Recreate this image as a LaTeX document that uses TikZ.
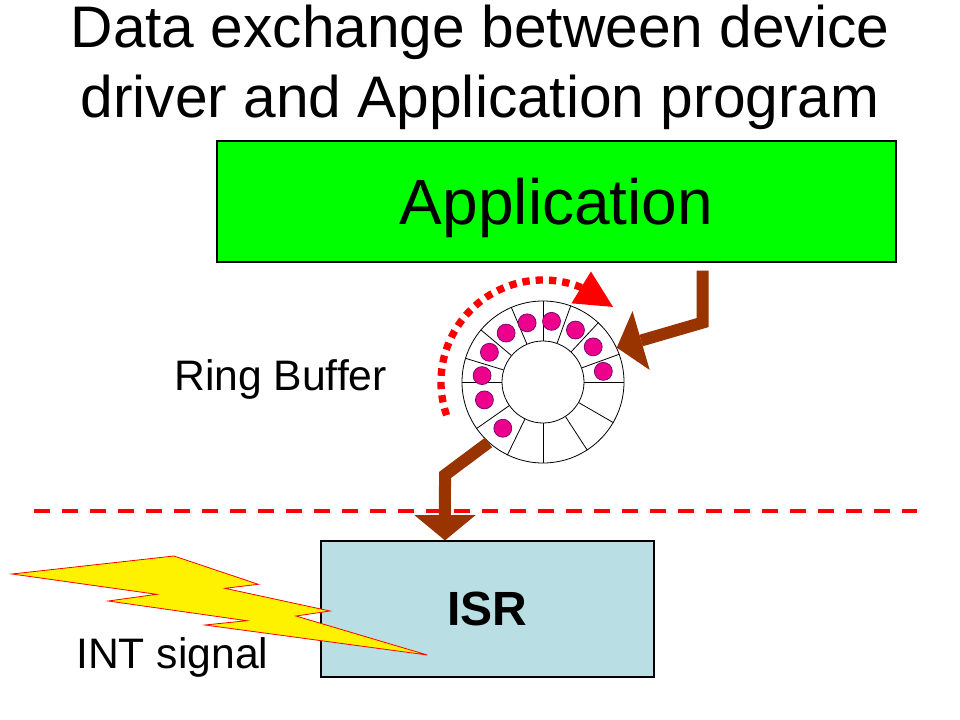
\documentclass[tikz,border=0pt]{standalone}
\usepackage{fontspec}
\setmainfont{Liberation Sans}
\usetikzlibrary{arrows.meta}
\definecolor{appgreen}{RGB}{0,255,0}
\definecolor{isrblue}{RGB}{185,222,227}
\definecolor{feedbrown}{RGB}{153,51,0}
\definecolor{beadpurple}{RGB}{110,0,110}
\begin{document}
\begin{tikzpicture}[x=0.75pt, y=-0.75pt,
        box/.style={rectangle, draw, line width=0.9pt, inner sep=0pt, text depth=0pt},
        wheel/.style={circle, draw, line width=0.6pt, inner sep=0pt},
        bead/.style={circle, draw=beadpurple, line width=0.5pt, fill=magenta, minimum size=13.5pt, inner sep=0pt},
        feed/.style={draw=feedbrown, line width=9pt, -{Triangle[length=19pt, width=46pt, line width=0pt]}},
        label/.style={inner sep=0pt, anchor=base west, font=\fontsize{32}{38}\selectfont}]
        \useasboundingbox (0,0) rectangle (960,720);

        % Title
        \node[align=center, inner sep=0pt, anchor=north, font=\fontsize{44}{52.5}\selectfont] (title) at (480,4.5)
            {Data exchange between device\\driver and Application program};

        % Application
        \node[box, fill=appgreen, minimum width=509.25pt, minimum height=90.75pt,
            font=\fontsize{48}{56}\selectfont] (app) at (556.5,201.5) {Application};

        % Ring buffer
        \node[wheel, minimum size=121.5pt] (ring) at (543,382) {};
        \node[wheel, minimum size=61.5pt] (hole) at (ring.center) {};
        \node[circle, inner sep=0pt, minimum size=91.5pt] (mid) at (ring.center) {};
        \foreach \a in {0,20,47,70,90,113,140,163,180,215,244,270,303,330}
            \draw[line width=0.6pt] (hole.\a) -- (ring.\a);
        \foreach \a in {10,35,58,82,105,127,151,174,197,229}
            \node[bead] at (mid.\a) {};

        % Write pointer
        \coordinate (wptip) at ([shift={(47:77pt)}]ring.center);
        \draw[red, line width=5.5pt, dash pattern=on 5.5pt off 4.5pt,
            -{Triangle[length=28pt, width=28pt, line width=0pt]}]
            ([shift={(199:76.5pt)}]ring.center) arc[start angle=199, end angle=68, radius=76.5pt] -- (wptip);

        % User / kernel border
        \draw[red, line width=3pt, dash pattern=on 12pt off 9pt] (34,511) -- (917,511);

        % ISR
        \node[box, fill=isrblue, minimum width=249.75pt, minimum height=102pt,
            font=\bfseries\fontsize{36}{42}\selectfont] (isr) at (487.5,609) {ISR};

        % Connections
        \draw[feed] ([xshift=-145.5pt, yshift=-6pt]app.south east) -- ++(0,52) -- (ring.25);
        \draw[feed] (ring.228) -- (445,475) -- ([xshift=-31.9pt]isr.north);

        % Interrupt
        \draw[red, line width=0.6pt, fill=yellow, line join=miter]
            (12,574) -- (174,556) -- (258.3,584.3) -- (225,588.3) -- (330,611) -- (296,616)
            -- (427.3,655) -- (205,625) -- (246.7,620.7) -- (108.3,601) -- (156.7,594.3) -- cycle;

        % Labels
        \node[label] (ringlabel) at (174,390.7) {Ring Buffer};
        \node[label] (intlabel) at (76,668) {INT signal};
    \end{tikzpicture}
\end{document}
